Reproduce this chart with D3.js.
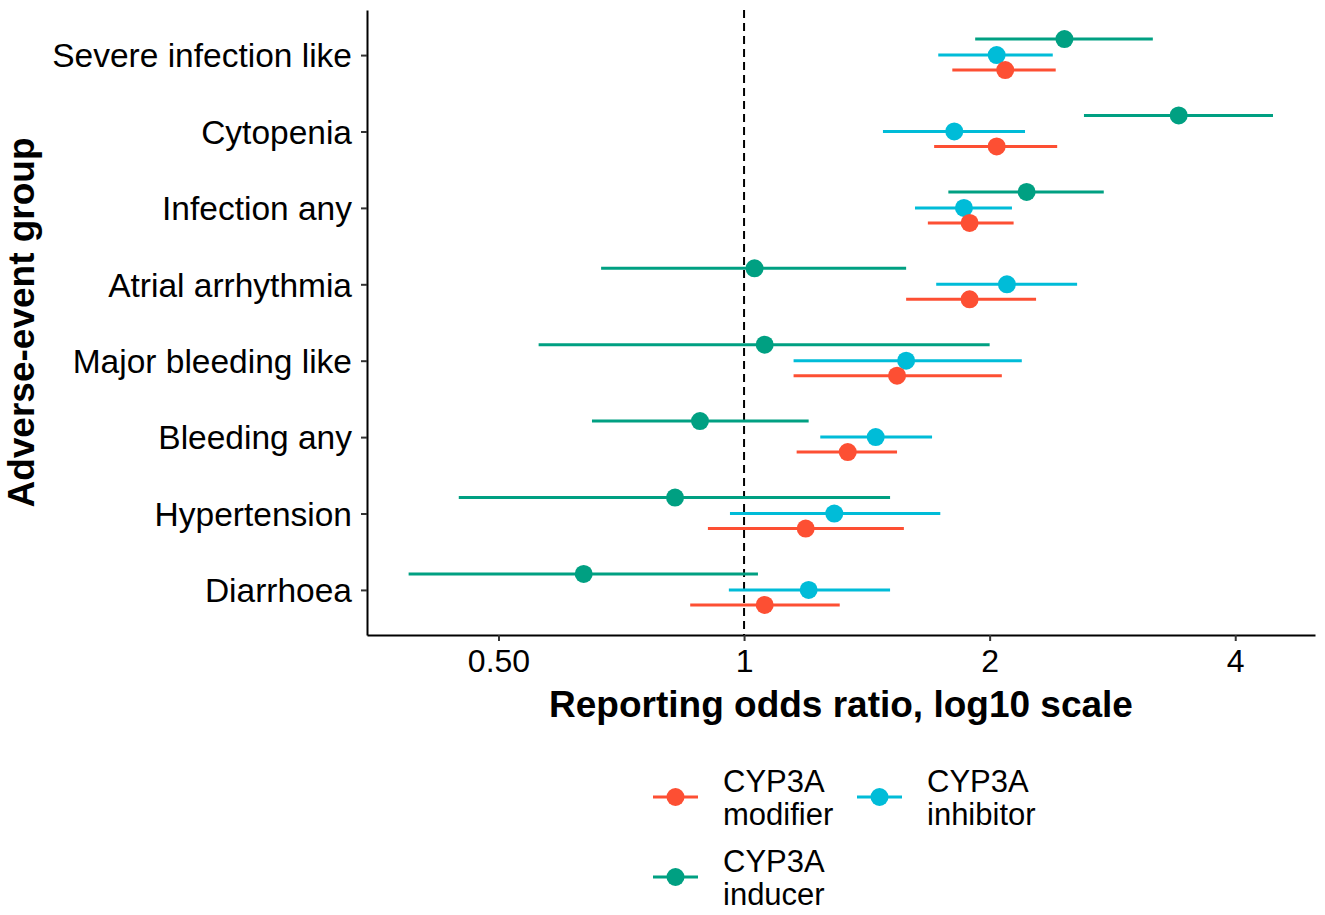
<!DOCTYPE html>
<html>
<head>
<meta charset="utf-8">
<script src="https://cdn.jsdelivr.net/npm/d3@7"></script>
<style>
  body { margin: 0; background: #fff; }
  text { font-family: "Liberation Sans", Arial, sans-serif; }
</style>
</head>
<body>
<div id="chart"></div>
<script>
// 有害事象グループ（上から順）
const groups = ['Severe infection like', 'Cytopenia', 'Infection any', 'Atrial arrhythmia',
  'Major bleeding like', 'Bleeding any', 'Hypertension', 'Diarrhoea'];

// 各シリーズ: [点推定, 下限, 上限]
const inducer = [
  [2.47, 1.92, 3.17], [3.41, 2.61, 4.45], [2.22, 1.78, 2.76], [1.03, 0.668, 1.58],
  [1.06, 0.56, 2.00], [0.883, 0.651, 1.20], [0.823, 0.447, 1.51], [0.636, 0.388, 1.04]
];
const inhibitor = [
  [2.04, 1.73, 2.39], [1.81, 1.48, 2.21], [1.86, 1.62, 2.13], [2.10, 1.72, 2.56],
  [1.58, 1.15, 2.19], [1.45, 1.24, 1.70], [1.29, 0.961, 1.74], [1.20, 0.958, 1.51]
];
const modifier = [
  [2.09, 1.80, 2.41], [2.04, 1.71, 2.42], [1.89, 1.68, 2.14], [1.89, 1.58, 2.28],
  [1.54, 1.15, 2.07], [1.34, 1.16, 1.54], [1.19, 0.903, 1.57], [1.06, 0.859, 1.31]
];
const xTicks = [0.5, 1, 2, 4];
const xTickLabels = ['0.50', '1', '2', '4'];

const seriesNames = ['modifier', 'inhibitor', 'inducer'];
const seriesData = { modifier, inhibitor, inducer };
const colors = { modifier: '#FD4F33', inhibitor: '#00BCD8', inducer: '#00A082' };
const dodge = { inducer: -16, inhibitor: 0, modifier: 15 };

// svg領域設定
const svgWidth = 1325;
const svgHeight = 915;
const svg = d3.select('#chart')
  .append('svg')
  .attr('width', svgWidth)
  .attr('height', svgHeight);

const margin = { top: 10, right: 10, bottom: 280, left: 367 };
const width = svgWidth - margin.left - margin.right;
const height = svgHeight - margin.top - margin.bottom;
const graph = svg.append('g')
  .attr('transform', `translate(${margin.left},${margin.top})`);

// scale設定
const xScale = d3.scaleLog().domain([0.345, 5.01]).range([0, width]);
const yScale = d3.scalePoint().domain(groups).range([0, height]).padding(0.59);

// 基準線 (ROR = 1)
graph.append('line')
  .attr('x1', xScale(1)).attr('x2', xScale(1))
  .attr('y1', 0).attr('y2', height)
  .attr('stroke', '#000')
  .attr('stroke-width', 2)
  .attr('stroke-dasharray', '8,5');

// エラーバーと点
seriesNames.slice().reverse().forEach(name => {
  const rows = seriesData[name].map((d, i) => ({ group: groups[i], est: d[0], lo: d[1], hi: d[2] }));
  const g = graph.append('g');
  g.selectAll('line')
    .data(rows)
    .enter()
    .append('line')
    .attr('x1', d => xScale(d.lo))
    .attr('x2', d => xScale(d.hi))
    .attr('y1', d => yScale(d.group) + dodge[name])
    .attr('y2', d => yScale(d.group) + dodge[name])
    .attr('stroke', colors[name])
    .attr('stroke-width', 3);
  g.selectAll('circle')
    .data(rows)
    .enter()
    .append('circle')
    .attr('cx', d => xScale(d.est))
    .attr('cy', d => yScale(d.group) + dodge[name])
    .attr('r', 9)
    .attr('fill', colors[name]);
});

// 軸の作成
const xAxis = graph.append('g')
  .attr('transform', `translate(0,${height})`)
  .call(d3.axisBottom(xScale).tickValues(xTicks).tickFormat((d, i) => xTickLabels[i])
    .tickSize(6).tickSizeOuter(0).tickPadding(6));
const yAxis = graph.append('g')
  .call(d3.axisLeft(yScale).tickSize(6).tickSizeOuter(0).tickPadding(9));

[xAxis, yAxis].forEach(ax => {
  ax.select('.domain').attr('stroke', '#000').attr('stroke-width', 2);
  ax.selectAll('.tick line').attr('stroke', '#333').attr('stroke-width', 2);
  ax.selectAll('.tick text').attr('fill', '#000').style('font-size', '32px')
    .style('font-family', '"Liberation Sans", Arial, sans-serif');
});
xAxis.selectAll('.tick text').attr('dy', '0.78em');
yAxis.selectAll('.tick text').attr('dy', '0.35em').style('font-size', '33.5px');

// 軸タイトル
svg.append('text')
  .attr('x', margin.left + width / 2)
  .attr('y', 717)
  .attr('text-anchor', 'middle')
  .style('font-size', '37px')
  .style('font-weight', 'bold')
  .text('Reporting odds ratio, log10 scale');

svg.append('text')
  .attr('transform', `translate(34,${margin.top + height / 2}) rotate(-90)`)
  .attr('text-anchor', 'middle')
  .style('font-size', '37px')
  .style('font-weight', 'bold')
  .text('Adverse-event group');

// 凡例
const legendItems = [
  { name: 'modifier', x: 653, y: 797 },
  { name: 'inhibitor', x: 857, y: 797 },
  { name: 'inducer', x: 653, y: 877 }
];
const legend = svg.append('g');
legendItems.forEach(item => {
  const g = legend.append('g').attr('transform', `translate(${item.x},${item.y})`);
  g.append('line')
    .attr('x1', 0).attr('x2', 45)
    .attr('stroke', colors[item.name])
    .attr('stroke-width', 3);
  g.append('circle')
    .attr('cx', 22.5)
    .attr('r', 9)
    .attr('fill', colors[item.name]);
  const t = g.append('text')
    .attr('x', 70)
    .style('font-size', '31px');
  t.append('tspan').attr('x', 70).attr('y', -5).text('CYP3A');
  t.append('tspan').attr('x', 70).attr('y', 28).text(item.name);
});
</script>
</body>
</html>
